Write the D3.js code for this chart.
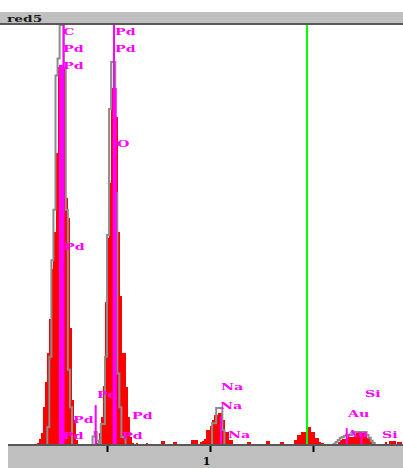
<!DOCTYPE html>
<html>
<head>
<meta charset="utf-8">
<script src="https://cdn.jsdelivr.net/npm/d3@7"></script>
<style>
  html, body { margin: 0; padding: 0; background: #ffffff; overflow: hidden; }
  svg { display: block; }
</style>
</head>
<body>
<svg id="chart" width="403" height="468"></svg>
<script>
// ---- spectrum data ----
const title = "red5";
const channelStart = 0.02;   // keV, first channel
const channelWidth = 0.01;   // keV per channel

// measured spectrum (filled)
const redCounts = [
  0,0,0,0,0,0,0,0,0,0,
  0,0,0,3,5,15,29,90,150,219,
  300,420,507,695,900,900,900,900,588,540,
  279,107,60,12,3,0,0,0,0,0,
  0,0,12,5,29,67,140,340,493,624,
  850,850,780,507,355,219,219,138,67,19,
  5,0,5,0,0,0,0,5,0,0,
  0,0,0,0,10,10,0,0,0,0,
  7,7,0,0,0,0,0,0,0,12,
  12,12,0,7,10,14,36,36,45,60,
  71,71,76,76,60,31,31,12,12,3,
  0,0,0,0,0,0,8,8,0,0,
  0,0,0,0,0,10,10,0,0,0,
  0,0,8,8,0,0,0,0,0,12,
  24,24,31,31,31,43,43,31,31,17,
  17,7,5,0,0,0,0,0,0,0,
  7,12,14,14,17,19,19,19,19,29,
  29,29,29,29,17,17,7,7,0,0,
  0,0,0,7,0,10,10,10,0,7,
  7,0
];

// overlay spectrum (outline)
const grayCounts = [
  0,0,0,0,0,0,0,0,0,0,
  0,0,0,0,0,0,0,0,0,43,
  210,440,560,880,920,1100,1100,900,560,179,
  90,0,0,0,0,0,0,0,0,0,
  0,20,31,10,5,50,50,210,500,800,
  912,912,600,170,90,19,19,0,0,0,
  0,0,0,0,0,0,0,0,0,0,
  0,0,0,0,0,0,0,0,0,0,
  0,0,0,0,0,0,0,0,0,0,
  0,0,0,0,0,0,0,0,0,52,
  52,88,88,88,36,0,0,0,0,0,
  0,0,0,0,0,0,0,0,0,0,
  0,0,0,0,0,0,0,0,0,0,
  0,0,0,0,0,0,0,0,0,0,
  0,0,0,0,0,0,0,0,0,0,
  0,0,0,0,0,0,0,0,3,7,
  12,17,19,22,24,24,24,29,31,31,
  31,31,31,31,24,17,10,5,0,0,
  0,0,0,0,0,0,0,0,0,0,
  0,0
];

// element line markers: energy (keV) and marker height (counts)
const markerEnergy = [0.2718, 0.2816, 0.2888, 0.5325, 0.5422, 0.5340, 0.4451, 1.0534, 1.6636, 1.7354];
const markerTop    = [905,    905,    1000,   850,    850,    1000,   95,     67,     40,     29];

// element labels: text, energy (keV), height (counts)
const labelText   = ["C", "Pd", "Pd", "Pd", "Pd", "Pd", "Pd", "Pd", "O", "Pd", "Pd", "Pd", "Na", "Na", "Na", "Si", "Au", "Au", "Si"];
const labelEnergy = [0.2864, 0.2864, 0.2864, 0.2913, 0.3350, 0.2864, 0.5388, 0.5388, 0.5485, 0.4515, 0.6214, 0.5728, 1.0534, 1.0485, 1.0874, 1.7524, 1.6699, 1.6650, 1.8350];
const labelCount  = [976, 936, 895, 464, 52, 14, 976, 936, 710, 112, 62, 14, 131, 86, 17, 114, 67, 19, 17];

// cursor position and axis ticks
const cursorEnergy = 1.471;
const tickValues = [0.5, 1, 1.5];
const tickLabels = ["", "1", ""];

// ---- drawing ----
const W = 403, H = 468;
const plotLeft = 8, plotRight = 403, plotTop = 25, baseY = 445;

const x = d3.scaleLinear().domain([0, 2]).range([4, 416]);
const y = d3.scaleLinear().domain([0, 1000]).range([baseY, plotTop]).clamp(true);

const svg = d3.select("#chart");

svg.append("defs").append("clipPath").attr("id", "plotClip")
  .append("rect")
  .attr("x", plotLeft).attr("y", plotTop)
  .attr("width", plotRight - plotLeft).attr("height", baseY - plotTop + 1);

// title bar
svg.append("rect").attr("x", 0).attr("y", 12).attr("width", W).attr("height", 11).attr("fill", "#c0c0c0");
svg.append("rect").attr("x", 0).attr("y", 23).attr("width", W).attr("height", 2).attr("fill", "#585858");
svg.append("text")
  .attr("transform", "translate(7,22) scale(1.45,1)")
  .attr("font-family", "DejaVu Serif")
  .attr("font-weight", "bold")
  .attr("font-size", 9.5)
  .attr("fill", "#1a1a1a")
  .text(title);

// lower panel
svg.append("rect").attr("x", plotLeft).attr("y", baseY).attr("width", plotRight - plotLeft).attr("height", H - baseY).attr("fill", "#c0c0c0");

const plot = svg.append("g").attr("clip-path", "url(#plotClip)");

const channels = redCounts.map((c, i) => ({
  e: channelStart + i * channelWidth,
  red: c,
  gray: grayCounts[i]
}));

// filled spectrum bars
plot.append("g")
  .attr("shape-rendering", "crispEdges")
  .selectAll("rect")
  .data(channels.filter(d => d.red > 0))
  .join("rect")
  .attr("x", d => x(d.e))
  .attr("width", d => x(d.e + channelWidth) - x(d.e) + 0.2)
  .attr("y", d => y(d.red))
  .attr("height", d => y(0) - y(d.red))
  .attr("fill", "#ff0000");

// overlay spectrum as a stepped outline
const stepPts = channels.map(d => [x(d.e), y(d.gray)]);
stepPts.push([x(channelStart + channels.length * channelWidth), y(0)]);
plot.append("path")
  .attr("d", d3.line().curve(d3.curveStepAfter)(stepPts))
  .attr("fill", "none")
  .attr("stroke", "#8c8c8c")
  .attr("stroke-width", 2);

// element markers
plot.append("g")
  .selectAll("line")
  .data(markerEnergy.map((e, i) => ({ e, top: markerTop[i] })))
  .join("line")
  .attr("x1", d => x(d.e)).attr("x2", d => x(d.e))
  .attr("y1", d => y(d.top)).attr("y2", y(0))
  .attr("stroke", "#ff00ff")
  .attr("stroke-width", 2);

// cursor
plot.append("line")
  .attr("x1", x(cursorEnergy)).attr("x2", x(cursorEnergy))
  .attr("y1", plotTop).attr("y2", baseY)
  .attr("stroke", "#00ff00")
  .attr("stroke-width", 2);

// baseline
svg.append("line")
  .attr("x1", plotLeft).attr("x2", plotRight)
  .attr("y1", baseY).attr("y2", baseY)
  .attr("stroke", "#585858")
  .attr("stroke-width", 2);

// element labels
svg.append("g")
  .selectAll("text")
  .data(labelText.map((t, i) => ({ t, e: labelEnergy[i], c: labelCount[i] })))
  .join("text")
  .attr("transform", d => `translate(${x(d.e)},${y(d.c)}) scale(1.5,1)`)
  .attr("font-family", "DejaVu Serif")
  .attr("font-weight", "bold")
  .attr("font-size", 9.5)
  .attr("fill", "#ff00ff")
  .text(d => d.t);

// energy axis
const axis = d3.axisBottom(x)
  .tickValues(tickValues)
  .tickSize(6)
  .tickSizeOuter(0)
  .tickPadding(5)
  .tickFormat((d, i) => tickLabels[i]);

const gAxis = svg.append("g").attr("transform", `translate(0,${baseY + 1})`).call(axis);
gAxis.select(".domain").remove();
gAxis.selectAll(".tick line").attr("stroke", "#000").attr("stroke-width", 2);
gAxis.selectAll(".tick text")
  .attr("fill", "#000")
  .attr("dx", -4)
  .attr("font-family", "DejaVu Serif")
  .attr("font-weight", "bold")
  .attr("font-size", 11);
</script>
</body>
</html>
